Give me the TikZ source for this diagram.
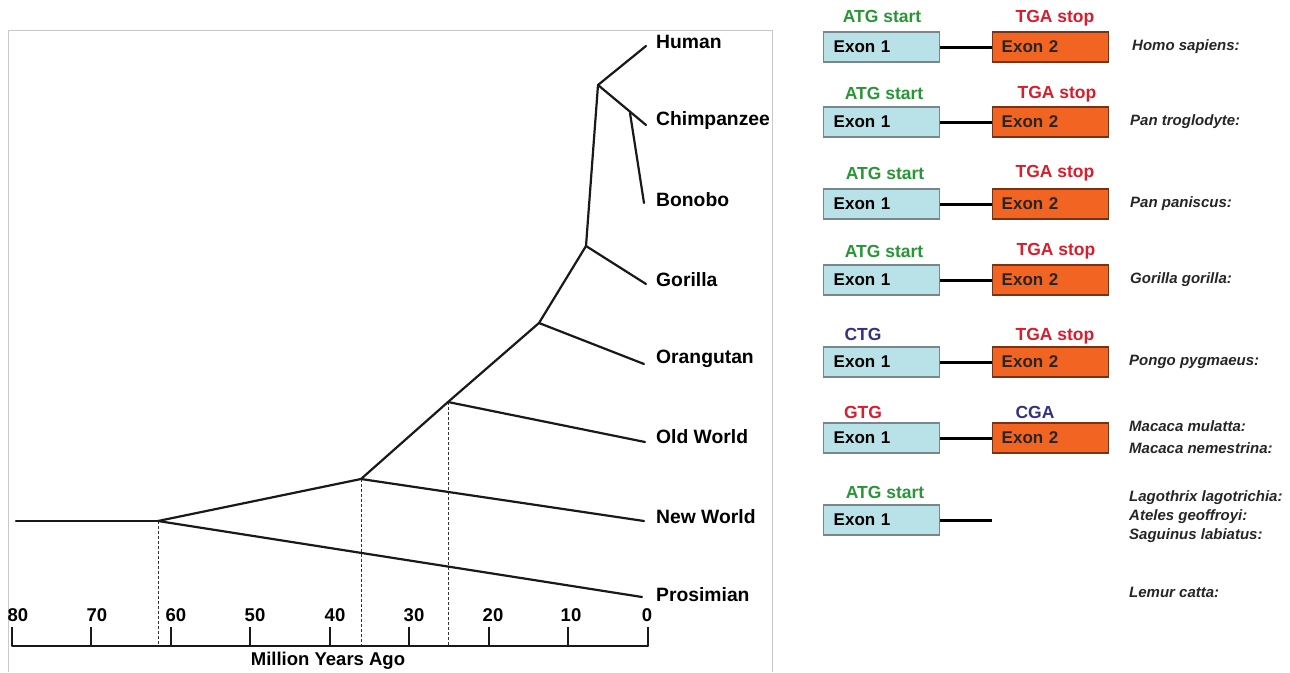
\documentclass[tikz,border=0pt]{standalone}
\usepackage{fontspec}
\setmainfont{Liberation Sans}
\definecolor{exonblue}{RGB}{185,226,232}
\definecolor{exonblueline}{RGB}{120,135,138}
\definecolor{exonorange}{RGB}{242,100,34}
\definecolor{exonorangeline}{RGB}{120,50,20}
\definecolor{startgreen}{RGB}{40,150,55}
\definecolor{stopred}{RGB}{215,30,45}
\definecolor{codonblue}{RGB}{50,50,130}
\definecolor{framegray}{RGB}{200,200,200}
\begin{document}
\begin{tikzpicture}[x=1pt,y=-1pt,
  branch/.style={line width=2.2pt,line cap=round,line join=round,black!90},
  guide/.style={dashed,dash pattern=on 3pt off 2pt,line width=0.8pt,black!80},
  axisline/.style={line width=2pt,black!90},
  taxon/.style={anchor=west,inner sep=0pt,font=\fontsize{19.3}{21}\selectfont\bfseries},
  ticklab/.style={inner sep=0pt,font=\fontsize{18.5}{20}\selectfont\bfseries},
  exonA/.style={draw=exonblueline,fill=exonblue,line width=1.4pt,anchor=west,
    text width=96pt,inner xsep=10pt,minimum height=30pt,align=left,
    font=\fontsize{17}{19}\selectfont\bfseries},
  exonB/.style={draw=exonorangeline,fill=exonorange,line width=1.4pt,anchor=west,
    text width=98pt,inner xsep=9pt,minimum height=30pt,align=left,
    font=\fontsize{17}{19}\selectfont\bfseries,text=black!85},
  intron/.style={line width=3pt},
  codon/.style={inner sep=0pt,font=\fontsize{17.5}{19}\selectfont\bfseries},
  species/.style={anchor=west,inner sep=0pt,font=\fontsize{15}{17}\selectfont\bfseries\itshape,text=black!85}
]
\useasboundingbox (0,0) rectangle (1290,672);
\fill[white] (0,0) rectangle (1290,672);
% frame of the tree panel
\draw[framegray,line width=1pt] (8,672) -- (8,30) -- (772,30) -- (772,672);

% tree inner nodes
\coordinate (root) at (16,521);
\coordinate (nA) at (158,521);
\coordinate (nB) at (361,479);
\coordinate (nC) at (448,402);
\coordinate (nD) at (539,323);
\coordinate (nE) at (586,246);
\coordinate (nF) at (598,85);
\coordinate (nG) at (630,113);
% tips
\coordinate (tHuman) at (646,46);
\coordinate (tChimp) at (646,125);
\coordinate (tBonobo) at (644,203);
\coordinate (tGorilla) at (646,284);
\coordinate (tOrang) at (644,364);
\coordinate (tOld) at (645,442);
\coordinate (tNew) at (644,521);
\coordinate (tPros) at (642,597);

% dashed guides
\coordinate (gA) at (158,646);
\coordinate (gB) at (361,646);
\coordinate (gC) at (448,646);
\draw[guide] (nA) -- (gA);
\draw[guide] (nB) -- (gB);
\draw[guide] (nC) -- (gC);

% branches
\draw[branch] (root) -- (nA);
\draw[branch] (nA) -- (tPros);
\draw[branch] (nA) -- (nB);
\draw[branch] (nB) -- (tNew);
\draw[branch] (nB) -- (nC);
\draw[branch] (nC) -- (tOld);
\draw[branch] (nC) -- (nD);
\draw[branch] (nD) -- (tOrang);
\draw[branch] (nD) -- (nE);
\draw[branch] (nE) -- (tGorilla);
\draw[branch] (nE) -- (nF);
\draw[branch] (nF) -- (tHuman);
\draw[branch] (nF) -- (tChimp);
\draw[branch] (nG) -- (tBonobo);

% taxon labels
\node[taxon] (lHuman) at (656,42) {Human};
\node[taxon] (lChimp) at (656,121) {Chimpanzee};
\node[taxon] (lBonobo) at (656,200) {Bonobo};
\node[taxon] (lGorilla) at (656,280) {Gorilla};
\node[taxon] (lOrang) at (656,359) {Orangutan};
\node[taxon] (lOld) at (656,437) {Old World};
\node[taxon] (lNew) at (656,517) {New World};
\node[taxon] (lPros) at (656,595) {Prosimian};

% time axis
\coordinate (ax0) at (12,646);
\coordinate (ax1) at (648,646);
\draw[axisline,line cap=round] (ax0) -- (ax1);
\foreach \tx/\lx/\val in {12/18/80,91/97/70,171/176/60,250/255/50,330/335/40,409/414/30,489/493/20,568/571/10,648/647/0}{
  \draw[axisline] (\tx,627) -- (\tx,646);
  \node[ticklab] (tick\val) at (\lx,615) {\val};
}
\node[ticklab] (axlabel) at (328,661) {Million Years Ago};

% gene structures
% row 1
\node[exonA] (e1a) at (823,47) {Exon 1};
\node[exonB] (e2a) at (992,47) {Exon 2};
\draw[intron] (e1a.east) -- (e2a.west);
\node[codon,text=startgreen] (s1) at (882,16) {ATG start};
\node[codon,text=stopred] (p1) at (1055,18) {TGA stop};
\node[species] (sp1) at (1132,47) {Homo sapiens:};
% row 2
\node[exonA] (e1b) at (823,122) {Exon 1};
\node[exonB] (e2b) at (992,122) {Exon 2};
\draw[intron] (e1b.east) -- (e2b.west);
\node[codon,text=startgreen] (s2) at (884,93) {ATG start};
\node[codon,text=stopred] (p2) at (1057,94) {TGA stop};
\node[species] (sp2) at (1130,122) {Pan troglodyte:};
% row 3
\node[exonA] (e1c) at (823,204) {Exon 1};
\node[exonB] (e2c) at (992,204) {Exon 2};
\draw[intron] (e1c.east) -- (e2c.west);
\node[codon,text=startgreen] (s3) at (885,173) {ATG start};
\node[codon,text=stopred] (p3) at (1055,173) {TGA stop};
\node[species] (sp3) at (1130,204) {Pan paniscus:};
% row 4
\node[exonA] (e1d) at (823,280) {Exon 1};
\node[exonB] (e2d) at (992,280) {Exon 2};
\draw[intron] (e1d.east) -- (e2d.west);
\node[codon,text=startgreen] (s4) at (884,251) {ATG start};
\node[codon,text=stopred] (p4) at (1056,251) {TGA stop};
\node[species] (sp4) at (1130,280) {Gorilla gorilla:};
% row 5
\node[exonA] (e1e) at (823,362) {Exon 1};
\node[exonB] (e2e) at (992,362) {Exon 2};
\draw[intron] (e1e.east) -- (e2e.west);
\node[codon,text=codonblue] (s5) at (863,334) {CTG};
\node[codon,text=stopred] (p5) at (1055,336) {TGA stop};
\node[species] (sp5) at (1129,362) {Pongo pygmaeus:};
% row 6
\node[exonA] (e1f) at (823,438) {Exon 1};
\node[exonB] (e2f) at (992,438) {Exon 2};
\draw[intron] (e1f.east) -- (e2f.west);
\node[codon,text=stopred] (s6) at (863,412) {GTG};
\node[codon,text=codonblue] (p6) at (1035,412) {CGA};
\node[species] (sp6a) at (1129,426) {Macaca mulatta:};
\node[species] (sp6b) at (1129,448) {Macaca nemestrina:};
% row 7
\node[exonA] (e1g) at (823,520) {Exon 1};
\coordinate (introEnd) at (992,520);
\draw[intron] (e1g.east) -- (introEnd);
\node[codon,text=startgreen] (s7) at (885,492) {ATG start};
\node[species] (sp7a) at (1129,498) {Lagothrix lagotrichia:};
\node[species] (sp7b) at (1129,517) {Ateles geoffroyi:};
\node[species] (sp7c) at (1129,536) {Saguinus labiatus:};
% row 8
\node[species] (sp8) at (1129,592) {Lemur catta:};
\end{tikzpicture}
\end{document}
